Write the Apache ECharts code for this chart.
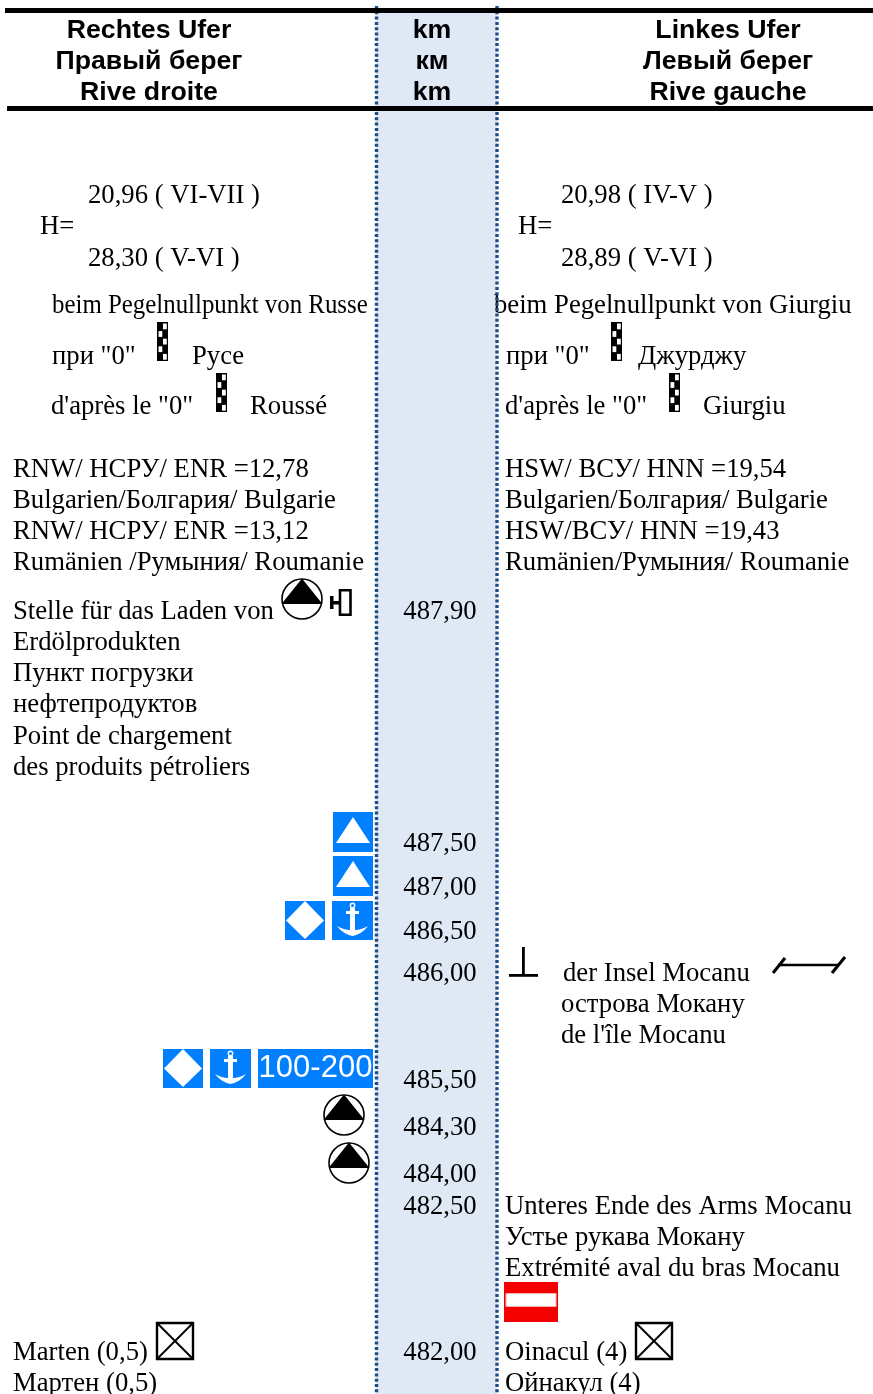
<!DOCTYPE html>
<html>
<head>
<meta charset="utf-8">
<title>Donau km 482-488</title>
<style>
  html, body { margin: 0; padding: 0; background: #fff; }
  #chart { width: 873px; height: 1394px; }
</style>
<script src="https://cdn.jsdelivr.net/npm/echarts@6/dist/echarts.min.js"></script>
</head>
<body>
<div id="chart"></div>
<script>
// texts
const headerRight = ['Rechtes Ufer', 'Правый берег', 'Rive droite'];
const headerKm = ['km', 'км', 'km'];
const headerLeft = ['Linkes Ufer', 'Левый берег', 'Rive gauche'];
const kmValues = ['487,90', '487,50', '487,00', '486,50', '486,00', '485,50', '484,30', '484,00', '482,50', '482,00'];
const rightBank = [
  '20,96 ( VI-VII )', 'H=', '28,30 ( V-VI )',
  'beim Pegelnullpunkt von Russe', 'при "0"', 'Русе', 'd\'après le "0"', 'Roussé',
  'RNW/ НСРУ/ ENR =12,78', 'Bulgarien/Болгария/ Bulgarie', 'RNW/ НСРУ/ ENR =13,12', 'Rumänien /Румыния/ Roumanie',
  'Stelle für das Laden von', 'Erdölprodukten', 'Пункт погрузки', 'нефтепродуктов', 'Point de chargement', 'des produits pétroliers',
  'Marten (0,5)', 'Мартен (0,5)'
];
const leftBank = [
  '20,98 ( IV-V )', 'H=', '28,89 ( V-VI )',
  'beim Pegelnullpunkt von Giurgiu', 'при "0"', 'Джурджу', 'd\'après le "0"', 'Giurgiu',
  'HSW/ ВСУ/ HNN =19,54', 'Bulgarien/Болгария/ Bulgarie', 'HSW/ВСУ/ HNN =19,43', 'Rumänien/Румыния/ Roumanie',
  'der Insel Mocanu', 'острова Мокану', 'de l\'île Mocanu',
  'Unteres Ende des Arms Mocanu', 'Устье рукава Мокану', 'Extrémité aval du bras Mocanu',
  'Oinacul (4)', 'Ойнакул (4)'
];
const signKinds = ['gauge', 'gauge', 'gauge', 'gauge', 'oil', 'crane', 'triangle', 'triangle', 'diamond', 'anchor',
  'diamond', 'anchor', 'range', 'oil', 'oil', 'mark', 'span', 'noEntry', 'cross', 'cross'];

// layout, page pixels
const headerX = [149, 432, 728];
const headerY = [31, 62, 93];
const kmX = 440;
const kmY = [612, 844, 888, 932, 974, 1081, 1128, 1175, 1207, 1353];
const rightX = [88, 40, 88, 52, 52, 192, 51, 250, 13, 13, 13, 13, 13, 13, 13, 13, 13, 13, 13, 13];
const rightY = [196, 227, 259, 306, 357, 357, 407, 407, 470, 501, 532, 563, 612, 643, 674, 705, 737, 768, 1353, 1384];
const leftX = [561, 518, 561, 494, 506, 638, 505, 703, 505, 505, 505, 505, 563, 561, 561, 505, 505, 505, 505, 505];
const leftY = [196, 227, 259, 306, 357, 357, 407, 407, 470, 501, 532, 563, 974, 1005, 1036, 1207, 1238, 1269, 1353, 1384];
const signX = [157, 216, 611, 669, 302, 330, 333, 333, 285, 332, 163, 210, 258, 344, 349, 509, 772, 504, 156, 635];
const signY = [322, 373, 322, 373, 599, 589, 812, 856, 901, 901, 1049, 1049, 1049, 1115, 1163, 947, 956, 1282, 1322, 1322];

const BLUE = '#0080ff';
const serif = '"Liberation Serif", "Times New Roman", serif';
const sans = '"Liberation Sans", Arial, sans-serif';
// this one line is set tighter than the rest in the source page
const squeezedLine = 'beim Pegelnullpunkt von Russe';

function textSeries(texts, xs, ys, font, align) {
  return {
    type: 'custom',
    coordinateSystem: 'cartesian2d',
    silent: true,
    clip: false,
    z: 5,
    data: texts.map(function (t, i) { return [xs[i], ys[i]]; }),
    renderItem: function (params, api) {
      const p = api.coord([api.value(0), api.value(1)]);
      const text = texts[params.dataIndex];
      const squeezed = text === squeezedLine;
      return {
        type: 'text',
        x: p[0],
        y: p[1],
        scaleX: squeezed ? 0.932 : 1,
        style: {
          text: text,
          x: 0,
          y: 0,
          font: font,
          fill: '#000',
          align: align,
          verticalAlign: 'middle'
        }
      };
    }
  };
}

function rect(x, y, w, h, fill) {
  return { type: 'rect', shape: { x: x, y: y, width: w, height: h }, style: { fill: fill } };
}
function poly(points, fill) {
  return { type: 'polygon', shape: { points: points }, style: { fill: fill } };
}
function stroke(points, width) {
  return { type: 'polyline', shape: { points: points }, style: { stroke: '#000', lineWidth: width, fill: null } };
}

function anchorParts() {
  return [
    rect(0, 0, 41, 39, BLUE),
    { type: 'circle', shape: { cx: 20.5, cy: 4.5, r: 2.2 }, style: { fill: null, stroke: '#fff', lineWidth: 1.4 } },
    rect(18, 7, 5, 27, '#fff'),
    rect(14, 10, 13, 3, '#fff'),
    {
      type: 'path',
      shape: { pathData: 'M5 25 Q12 29 18 29 L23 29 Q29 29 36 25 Q30 33 20.5 35 Q11 33 5 25 Z' },
      style: { fill: '#fff' }
    }
  ];
}

// every sign is drawn in its own small local box
const signParts = {
  gauge: function () {
    const parts = [rect(0, 0, 11, 39, '#000')];
    for (let r = 0; r < 5; r++) {
      parts.push(rect(r % 2 ? 1.5 : 6, 1.5 + r * 7.6, 3.8, 5.8, '#fff'));
    }
    return parts;
  },
  oil: function () {
    return [
      { type: 'circle', shape: { cx: 0, cy: 0, r: 20 }, style: { fill: '#fff', stroke: '#000', lineWidth: 1.6 } },
      poly([[0, -20.5], [20.5, 5], [-20.5, 5]], '#000')
    ];
  },
  crane: function () {
    return [
      { type: 'rect', shape: { x: 10, y: 1.2, width: 10.5, height: 24.5 }, style: { fill: '#fff', stroke: '#000', lineWidth: 2.6 } },
      rect(0, 7, 3.5, 13, '#000'),
      rect(0, 12, 9, 3.5, '#000')
    ];
  },
  triangle: function () {
    return [rect(0, 0, 40, 40, BLUE), poly([[20, 5], [37, 31], [3, 31]], '#fff')];
  },
  diamond: function () {
    return [rect(0, 0, 40, 39, BLUE), poly([[20, 0], [39, 19.5], [20, 38], [1, 19.5]], '#fff')];
  },
  anchor: anchorParts,
  range: function () {
    return [
      rect(0, 0, 115, 39, BLUE),
      { type: 'text', style: { text: '100-200', x: 57.5, y: 19.5, font: '31px ' + sans, fill: '#fff', align: 'center', verticalAlign: 'middle' } }
    ];
  },
  mark: function () {
    return [rect(13, 0, 2.8, 28, '#000'), rect(0, 27, 29, 2.8, '#000')];
  },
  span: function () {
    return [
      stroke([[6, 9], [66, 9]], 2.6),
      stroke([[1, 17], [13, 2]], 3),
      stroke([[60, 17], [73, 1]], 3)
    ];
  },
  noEntry: function () {
    return [
      rect(0, 0, 54, 40, '#f40000'),
      { type: 'rect', shape: { x: 2, y: 11.5, width: 50, height: 13 }, style: { fill: '#fff', stroke: '#f5b5b5', lineWidth: 1 } }
    ];
  },
  cross: function () {
    return [
      { type: 'rect', shape: { x: 1, y: 1, width: 36, height: 36 }, style: { fill: '#fff', stroke: '#000', lineWidth: 2.4 } },
      stroke([[1, 1], [37, 37]], 2),
      stroke([[37, 1], [1, 37]], 2)
    ];
  }
};

const chart = echarts.init(document.getElementById('chart'));

const option = {
  animation: false,
  backgroundColor: '#fff',
  grid: { left: 0, right: 0, top: 0, bottom: 0 },
  xAxis: { type: 'value', min: 0, max: 873, show: false },
  yAxis: { type: 'value', min: 0, max: 1394, inverse: true, show: false },
  series: [
    // km column band
    {
      type: 'custom',
      silent: true,
      clip: false,
      z: 1,
      data: [[376, 10, 497, 1394]],
      renderItem: function (params, api) {
        const a = api.coord([api.value(0), api.value(1)]);
        const b = api.coord([api.value(2), api.value(3)]);
        return rect(a[0], a[1], b[0] - a[0], b[1] - a[1], '#dfe8f5');
      }
    },
    textSeries(headerRight.concat(headerKm, headerLeft),
      [0, 0, 0, 1, 1, 1, 2, 2, 2].map(function (i) { return headerX[i]; }),
      [0, 1, 2, 0, 1, 2, 0, 1, 2].map(function (i) { return headerY[i]; }),
      'bold 26.7px ' + sans, 'center'),
    textSeries(kmValues, kmValues.map(function () { return kmX; }), kmY, '26.7px ' + serif, 'center'),
    textSeries(rightBank, rightX, rightY, '26.7px ' + serif, 'left'),
    textSeries(leftBank, leftX, leftY, '26.7px ' + serif, 'left'),
    // signs
    {
      type: 'custom',
      silent: true,
      clip: false,
      z: 6,
      data: signKinds.map(function (k, i) { return [signX[i], signY[i]]; }),
      renderItem: function (params, api) {
        const p = api.coord([api.value(0), api.value(1)]);
        return {
          type: 'group',
          x: p[0],
          y: p[1],
          children: signParts[signKinds[params.dataIndex]]()
        };
      }
    },
    // dotted column borders, they run over the text
    {
      type: 'custom',
      silent: true,
      clip: false,
      z: 7,
      data: [[376.5], [497]],
      renderItem: function (params, api) {
        const t = api.coord([api.value(0), 6]);
        const b = api.coord([api.value(0), 1394]);
        return {
          type: 'line',
          shape: { x1: t[0], y1: t[1], x2: b[0], y2: b[1] },
          style: { stroke: '#1f4e86', lineWidth: 3.4, lineDash: [3, 2.3] }
        };
      }
    },
    // header rules
    {
      type: 'custom',
      silent: true,
      clip: false,
      z: 8,
      data: [[5, 8, 873, 5], [7, 106, 873, 5]],
      renderItem: function (params, api) {
        const a = api.coord([api.value(0), api.value(1)]);
        return rect(a[0], a[1], api.value(2) - a[0], api.value(3), '#000');
      }
    }
  ]
};

chart.setOption(option);
</script>
</body>
</html>
